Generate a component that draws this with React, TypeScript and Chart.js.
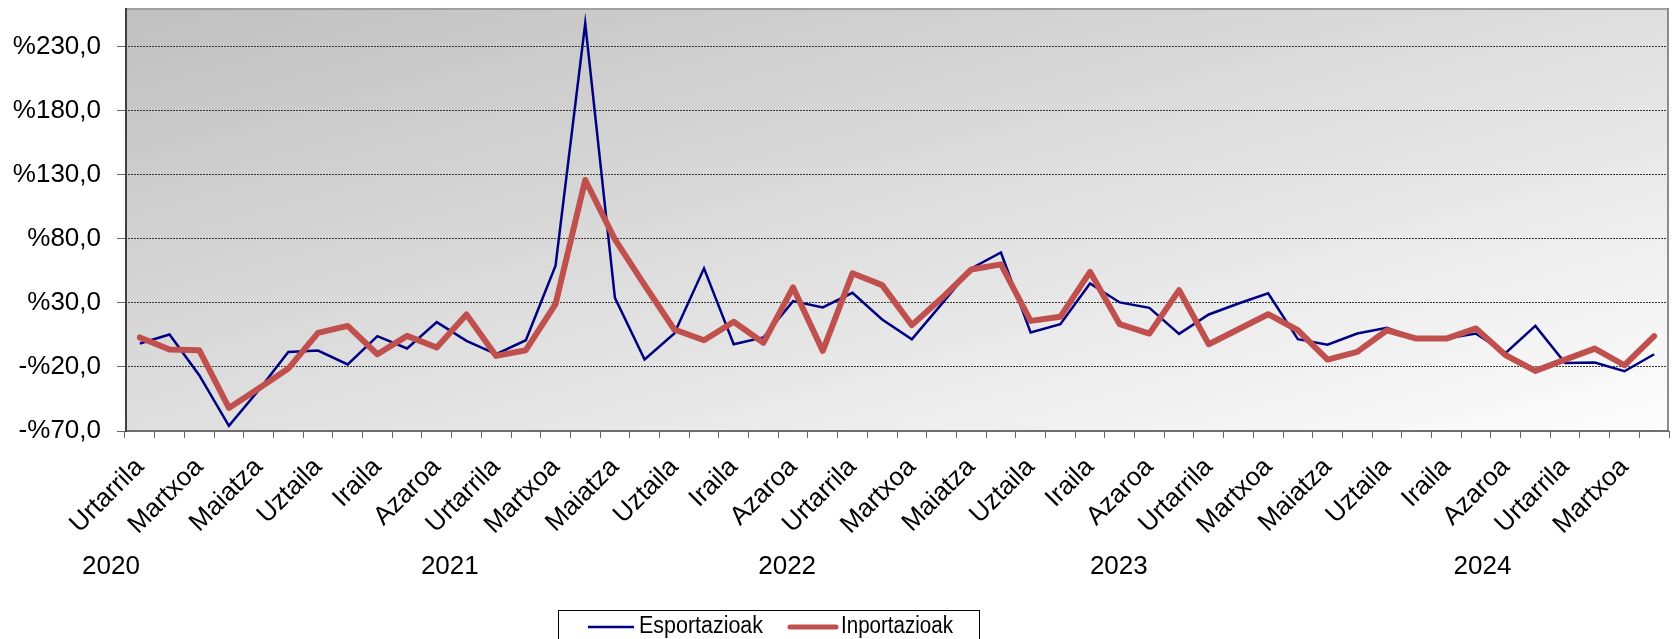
import { useEffect, useRef } from 'react';
import { Chart, registerables } from 'chart.js';

Chart.register(...registerables);

const MONTHS = ['Urtarrila', 'Otsaila', 'Martxoa', 'Apirila', 'Maiatza', 'Ekaina', 'Uztaila', 'Abuztua', 'Iraila', 'Urria', 'Azaroa', 'Abendua'];
const YEARS = ['2020', '2021', '2022', '2023', '2024'];
const MONTH_COUNT = 52;
const CATEGORIES = Array.from({ length: MONTH_COUNT }, (_, i) => MONTHS[i % 12]);
// year captions, placed in category units along the x axis
const YEAR_LABEL_AT = [-0.97, 10.44, 21.8, 32.97, 45.22];
const Y_TICKS = [-70, -20, 30, 80, 130, 180, 230];
const Y_MIN = -70;
const Y_MAX = 260;

const ESPORTAZIOAK = [
  -1.7, 5.3, -26.5, -66, -38.2, -8.3, -7.2, -18.1, 4, -5.6, 14.9, 0.3,
  -10.1, 0.8, 58.9, 248, 33.9, -14.2, 6.1, 56.9, -2.3, 3, 31.3, 26.4,
  37.8, 17, 1.6, 29, 56.8, 69.3, 6.8, 13.3, 45.1, 30.3, 26.1, 5.8,
  20.9, 29.5, 37.5, 1.6, -2.6, 6, 10.5, 2.1, 2.1, 6, -9, 12,
  -16.9, -16.6, -23.4, -10.1,
];
const INPORTAZIOAK = [
  3, -6.4, -7, -52, -36.9, -21.3, 6.6, 12, -10.1, 4.2, -4.9, 20.9,
  -11.4, -7, 29, 125.8, 79.5, 43.8, 9.2, 0.8, 15.2, -1.2, 42, -7.5,
  53, 43.8, 12.6, 33.5, 56, 60, 15.9, 19.1, 54.2, 13.3, 6, 39.9,
  -2.3, 9.4, 21.1, 8.6, -14.3, -8.3, 8.6, 2.1, 2.1, 10, -10.9, -23.1,
  -14.3, -5.7, -18.7, 4,
];

const FONT = '"Liberation Sans", Arial, sans-serif';

const fmt = (v: number) => (v < 0 ? '-' : '') + '%' + Math.abs(v).toFixed(1).replace('.', ',');

const backgroundPlugin = {
  id: 'bg',
  beforeDraw(chart: any) {
    const { ctx, chartArea: a, width, height } = chart;
    ctx.save();
    ctx.fillStyle = '#ffffff';
    ctx.fillRect(0, 0, width, height);
    ctx.translate(a.left, a.top);
    ctx.scale(a.right - a.left, a.bottom - a.top);
    const g = ctx.createLinearGradient(0, 0, 1, 1);
    g.addColorStop(0, '#c0c0c0');
    g.addColorStop(1, '#fdfdfd');
    ctx.fillStyle = g;
    ctx.fillRect(0, 0, 1, 1);
    ctx.restore();
  },
};

const framePlugin = {
  id: 'frame',
  afterDraw(chart: any) {
    const { ctx, chartArea: a } = chart;
    const x = chart.scales.x;
    ctx.save();
    ctx.lineWidth = 2;
    ctx.strokeStyle = '#a0a0a0';
    ctx.beginPath(); ctx.moveTo(a.left, a.top + 1); ctx.lineTo(a.right, a.top + 1); ctx.stroke();
    ctx.strokeStyle = '#8c8c8c';
    ctx.beginPath(); ctx.moveTo(a.right - 1, a.top); ctx.lineTo(a.right - 1, a.bottom); ctx.stroke();
    ctx.strokeStyle = '#6e6e6e';
    ctx.beginPath(); ctx.moveTo(a.left, a.bottom); ctx.lineTo(a.right, a.bottom); ctx.stroke();
    ctx.strokeStyle = '#404040';
    ctx.beginPath(); ctx.moveTo(a.left + 1, a.top); ctx.lineTo(a.left + 1, a.bottom + 1); ctx.stroke();

    // year captions
    ctx.fillStyle = '#000';
    ctx.font = `26px ${FONT}`;
    ctx.textAlign = 'center';
    ctx.textBaseline = 'middle';
    YEARS.forEach((y, i) => {
      ctx.fillText(y, x.getPixelForValue(YEAR_LABEL_AT[i]), 567);
    });

    // legend
    ctx.lineWidth = 1;
    ctx.strokeStyle = '#000';
    ctx.strokeRect(558.5, 610.5, 421, 60);
    const items = chart.data.datasets;
    const starts = [588, 790];
    ctx.font = `23px ${FONT}`;
    ctx.textAlign = 'left';
    items.forEach((d: any, i: number) => {
      const sx = starts[i];
      ctx.strokeStyle = d.borderColor;
      ctx.lineWidth = i === 0 ? 2.5 : 5;
      ctx.lineCap = i === 0 ? 'butt' : 'round';
      ctx.beginPath(); ctx.moveTo(sx, 627); ctx.lineTo(sx + 46, 627); ctx.stroke();
      ctx.fillStyle = '#000';
      ctx.fillText(d.label, sx + 51, 627, i === 0 ? 124 : 112);
    });
    ctx.restore();
  },
};

export default function App() {
  const ref = useRef<HTMLCanvasElement | null>(null);
  useEffect(() => {
    document.body.style.margin = '0';
    if (!ref.current) return;
    Chart.defaults.font.family = FONT;
    const chart = new Chart(ref.current, {
      type: 'line',
      data: {
        labels: CATEGORIES,
        datasets: [
          {
            label: 'Esportazioak',
            data: ESPORTAZIOAK,
            borderColor: '#000080',
            borderWidth: 2.5,
            pointRadius: 0,
            tension: 0,
            borderJoinStyle: 'miter',
            order: 1,
          },
          {
            label: 'Inportazioak',
            data: INPORTAZIOAK,
            borderColor: '#c0504d',
            borderWidth: 6,
            pointRadius: 0,
            tension: 0,
            borderJoinStyle: 'round',
            borderCapStyle: 'round',
            order: 0,
          },
        ],
      },
      options: {
        animation: false,
        responsive: false,
        layout: { padding: { left: 0, right: 5, top: 8, bottom: 0 } },
        plugins: { legend: { display: false }, tooltip: { enabled: false } },
        scales: {
          x: {
            type: 'category',
            offset: true,
            grid: { offset: true, drawOnChartArea: false, drawTicks: true, tickLength: 7, tickColor: '#666', lineWidth: 1 },
            border: { display: false },
            ticks: {
              autoSkip: false,
              minRotation: 45,
              maxRotation: 45,
              padding: 14,
              labelOffset: 0,
              color: '#000',
              font: { size: 26, family: FONT },
              callback: (_v: any, i: number) => (i % 2 === 0 ? CATEGORIES[i] : ''),
            },
            afterFit: (s: any) => {
              s.height = 208;
              s.paddingLeft = 0; s.paddingRight = 0; s.paddingTop = 0; s.paddingBottom = 0;
            },
          },
          y: {
            min: Y_MIN,
            max: Y_MAX,
            afterBuildTicks: (s: any) => { s.ticks = Y_TICKS.map((v) => ({ value: v })); },
            grid: { color: '#3a3a3a', lineWidth: 1, drawTicks: true, tickLength: 8, tickColor: '#666', tickBorderDash: [] },
            border: { display: false, dash: [2, 1] },
            ticks: {
              padding: 16,
              color: '#000',
              font: { size: 26, family: FONT },
              callback: (v: any) => fmt(Number(v)),
            },
            afterFit: (s: any) => {
              s.width = 125;
              s.paddingLeft = 0; s.paddingRight = 0; s.paddingTop = 0; s.paddingBottom = 0;
            },
          },
        },
      },
      plugins: [backgroundPlugin, framePlugin],
    });
    return () => chart.destroy();
  }, []);
  return <canvas ref={ref} width={1674} height={639} style={{ display: 'block' }} />;
}
